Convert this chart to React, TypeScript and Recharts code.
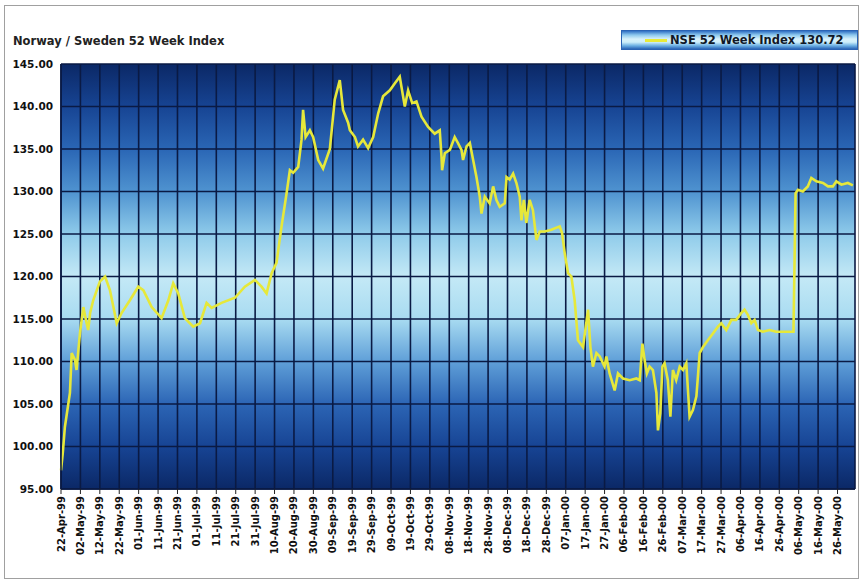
import {
  LineChart,
  Line,
  XAxis,
  YAxis,
  CartesianGrid,
  Legend,
} from "recharts";

// day offsets from 22-Apr-99 and the index value on that day
const days = [
  0, 0.9, 2, 4.6, 5.5, 7.2, 8, 9.8, 11.5, 13.2, 14, 15, 16.6, 20, 22.7, 25.2,
  28.7, 31.2, 35.5, 39.8, 42.4, 46.7, 51.8, 55.3, 57.8, 60.4, 63.8, 68.1, 71.6,
  75, 77.6, 82.7, 89.6, 94.7, 99.9, 103.3, 105.9, 108.5, 111, 113.6, 116.2,
  117.9, 119.6, 122.2, 123.9, 124.7, 126, 128.2, 129.9, 132.5, 135, 138.5, 141,
  143.6, 145.3, 147.9, 148.8, 151.4, 153, 155.6, 158.2, 160.8, 163.4, 165.9,
  169.4, 171.9, 174.5, 176.2, 177.1, 178.8, 180.9, 183.1, 185.7, 189.1, 192.5,
  195.1, 196, 196.3, 197.7, 200.3, 202.8, 204.5, 206.3, 207.1, 208.9, 210.6,
  212.3, 214, 215.7, 216.6, 218.3, 220.8, 222.6, 224.3, 226, 228.6, 229.5,
  231.1, 232.9, 234.6, 236.3, 237.2, 238.4, 239.7, 241.4, 243.1, 244.9, 246.6,
  249.2, 252.6, 256.9, 258.1, 259.5, 261.2, 262.9, 264.6, 266.3, 268.9, 271.5,
  272.7, 274, 275.8, 277.5, 280, 280.9, 282.6, 285.2, 286.9, 289.5, 292.9,
  296.4, 298.1, 299.5, 300.6, 301.8, 303.2, 304.9, 306.7, 307.5, 308.7, 309.8,
  310.9, 312.6, 313.9, 315.2, 316.9, 318.7, 320.4, 322.1, 323.8, 325.5, 327.3,
  329, 330.7, 333.2, 335.8, 338.4, 340.1, 342.7, 345.3, 347.8, 350.4, 352.1,
  353.8, 355.6, 357.3, 359, 361.5, 365, 368.4, 371.8, 375.3, 377.3, 378.4,
  379.6, 382.1, 384.7, 386.5, 389.1, 392.5, 395.1, 397.6, 399.4, 402, 405.3,
  407.9,
];

const indexValues = [
  97.2, 99.2, 102.3, 106.3, 111.0, 110.2, 109.0, 113.4, 116.4, 114.5, 113.7,
  115.7, 117.2, 119.4, 120.0, 118.4, 114.5, 115.7, 117.2, 118.8, 118.4, 116.4,
  115.1, 117.2, 119.2, 118.0, 115.1, 114.1, 114.5, 116.9, 116.3, 116.9, 117.5,
  118.8, 119.6, 118.8, 118.0, 120.4, 121.6, 125.9, 129.8, 132.5, 132.2, 132.9,
  136.1, 139.6, 136.4, 137.2, 136.4, 133.7, 132.7, 135.0, 140.8, 143.1, 139.6,
  138.1, 137.2, 136.4, 135.3, 136.1, 135.1, 136.4, 139.2, 141.2, 141.9, 142.7,
  143.5, 141.2, 140.0, 141.9, 140.4, 140.6, 138.8, 137.6, 136.8, 137.2, 134.1,
  132.5, 134.5, 134.9, 136.4, 135.7, 134.9, 133.7, 135.3, 135.7, 133.7, 131.7,
  129.4, 127.4, 129.4, 128.6, 130.6, 129.0, 128.2, 128.6, 131.7, 131.4, 132.1,
  131.0, 129.4, 126.6, 129.0, 126.3, 129.0, 127.8, 124.3, 125.3, 125.3, 125.5,
  125.9, 125.1, 122.7, 120.4, 120.0, 117.2, 112.5, 111.7, 116.1, 111.7, 109.4,
  111.0, 110.6, 109.4, 110.6, 108.6, 106.6, 108.6, 108.0, 107.8, 108.0, 107.8,
  112.1, 110.2, 108.6, 109.4, 109.0, 106.3, 101.9, 103.9, 109.4, 109.8, 107.8,
  103.5, 109.0, 107.8, 109.4, 109.0, 109.8, 103.5, 104.3, 105.9, 111.0, 111.7,
  112.5, 113.3, 114.1, 114.5, 113.7, 114.9, 114.9, 115.7, 116.1, 115.5, 114.5,
  114.9, 113.7, 113.5, 113.7, 113.5, 113.5, 113.5, 113.5, 129.8, 130.2, 130.0,
  130.6, 131.6, 131.2, 131.0, 130.6, 130.6, 131.2, 130.8, 131.0, 130.72,
];

const tickDays = [
  0, 10, 20, 30, 40, 50, 60, 70, 80, 90, 100, 110, 120, 130, 140, 150, 160,
  170, 180, 190, 200, 210, 220, 230, 240, 250, 260, 270, 280, 290, 300, 310,
  320, 330, 340, 350, 360, 370, 380, 390, 400,
];

const tickLabels = [
  "22-Apr-99", "02-May-99", "12-May-99", "22-May-99", "01-Jun-99", "11-Jun-99",
  "21-Jun-99", "01-Jul-99", "11-Jul-99", "21-Jul-99", "31-Jul-99", "10-Aug-99",
  "20-Aug-99", "30-Aug-99", "09-Sep-99", "19-Sep-99", "29-Sep-99", "09-Oct-99",
  "19-Oct-99", "29-Oct-99", "08-Nov-99", "18-Nov-99", "28-Nov-99", "08-Dec-99",
  "18-Dec-99", "28-Dec-99", "07-Jan-00", "17-Jan-00", "27-Jan-00", "06-Feb-00",
  "16-Feb-00", "26-Feb-00", "07-Mar-00", "17-Mar-00", "27-Mar-00", "06-Apr-00",
  "16-Apr-00", "26-Apr-00", "06-May-00", "16-May-00", "26-May-00",
];

const yTicks = [95, 100, 105, 110, 115, 120, 125, 130, 135, 140, 145];

const SERIES_NAME = "NSE 52 Week Index";
const FONT = "'DejaVu Sans', Verdana, sans-serif";

const data = days.map((day, i) => ({ day, value: indexValues[i] }));

const DateTick = ({ x, y, payload }: any) => {
  const i = tickDays.indexOf(payload.value);
  return (
    <g transform={`translate(${x},${y})`}>
      <text
        transform="rotate(-90)"
        textAnchor="end"
        dy="0.35em"
        fontSize={10}
        fontWeight="bold"
        fontFamily={FONT}
        fill="#111"
      >
        {tickLabels[i] ?? ""}
      </text>
    </g>
  );
};

const LegendBox = () => (
  <div
    style={{
      width: 237,
      height: 20,
      boxSizing: "border-box",
      border: "1px solid #2a63b4",
      background:
        "linear-gradient(to bottom, #2f6fc3 0%, #8cc8ee 22%, #d8f1fb 45%, #cdeefa 62%, #6aaee3 82%, #2a64b6 100%)",
      display: "flex",
      alignItems: "center",
      fontFamily: FONT,
      fontSize: 11.5,
      fontWeight: "bold",
      color: "#101828",
      whiteSpace: "nowrap",
    }}
  >
    <span
      style={{
        display: "inline-block",
        width: 22,
        height: 3,
        background: "#e8ea3a",
        marginLeft: 23,
        marginRight: 3,
      }}
    />
    <span>
      {SERIES_NAME} {indexValues[indexValues.length - 1].toFixed(2)}
    </span>
  </div>
);

export default function App() {
  return (
    <div
      style={{
        position: "absolute",
        left: 0,
        top: 0,
        width: 862,
        height: 583,
        background: "#fff",
      }}
    >
      {/* outer frame */}
      <div
        style={{
          position: "absolute",
          left: 4,
          top: 5,
          width: 855,
          height: 574,
          border: "1px solid #a0a0a0",
          boxSizing: "border-box",
        }}
      />
      <div
        style={{
          position: "absolute",
          left: 13,
          top: 34,
          fontFamily: FONT,
          fontSize: 11.5,
          fontWeight: "bold",
          color: "#222",
          whiteSpace: "nowrap",
        }}
      >
        Norway / Sweden 52 Week Index
      </div>
      <LineChart
        width={862}
        height={583}
        data={data}
        margin={{ top: 64, right: 7, bottom: 4, left: 6 }}
      >
        <defs>
          <linearGradient id="plotBg" x1="0" y1="0" x2="0" y2="1">
            <stop offset="0%" stopColor="#0b2866" />
            <stop offset="10%" stopColor="#174493" />
            <stop offset="20%" stopColor="#2a66b5" />
            <stop offset="30%" stopColor="#4f93d0" />
            <stop offset="40%" stopColor="#8fcbea" />
            <stop offset="50%" stopColor="#c4e9f6" />
            <stop offset="60%" stopColor="#a8dbf1" />
            <stop offset="70%" stopColor="#5f9fd8" />
            <stop offset="80%" stopColor="#2c65b5" />
            <stop offset="90%" stopColor="#174494" />
            <stop offset="100%" stopColor="#0b2866" />
          </linearGradient>
        </defs>
        <CartesianGrid
          fill="url(#plotBg)"
          fillOpacity={1}
          stroke="#0a1a44"
          strokeWidth={1.6}
          strokeDasharray=""
        />
        <XAxis
          dataKey="day"
          type="number"
          domain={[0, 409]}
          ticks={tickDays}
          interval={0}
          height={90}
          tick={<DateTick />}
          tickSize={5}
          tickLine={{ stroke: "#222" }}
          axisLine={{ stroke: "#0a1a44", strokeWidth: 1.5 }}
        />
        <YAxis
          type="number"
          domain={[95, 145]}
          ticks={yTicks}
          width={55}
          tickLine={false}
          axisLine={{ stroke: "#0a1a44", strokeWidth: 1.5 }}
          tickFormatter={(v: number) => v.toFixed(2)}
          tick={{
            fontSize: 10.5,
            fontWeight: "bold",
            fontFamily: FONT,
            fill: "#111",
          }}
        />
        <Legend
          layout="horizontal"
          align="center"
          verticalAlign="middle"
          wrapperStyle={{ position: "absolute", left: 621, top: 30, width: 237 }}
          content={() => <LegendBox />}
        />
        <Line
          type="linear"
          dataKey="value"
          name={SERIES_NAME}
          stroke="#e6e83a"
          strokeWidth={2.6}
          dot={false}
          isAnimationActive={false}
        />
      </LineChart>
    </div>
  );
}
